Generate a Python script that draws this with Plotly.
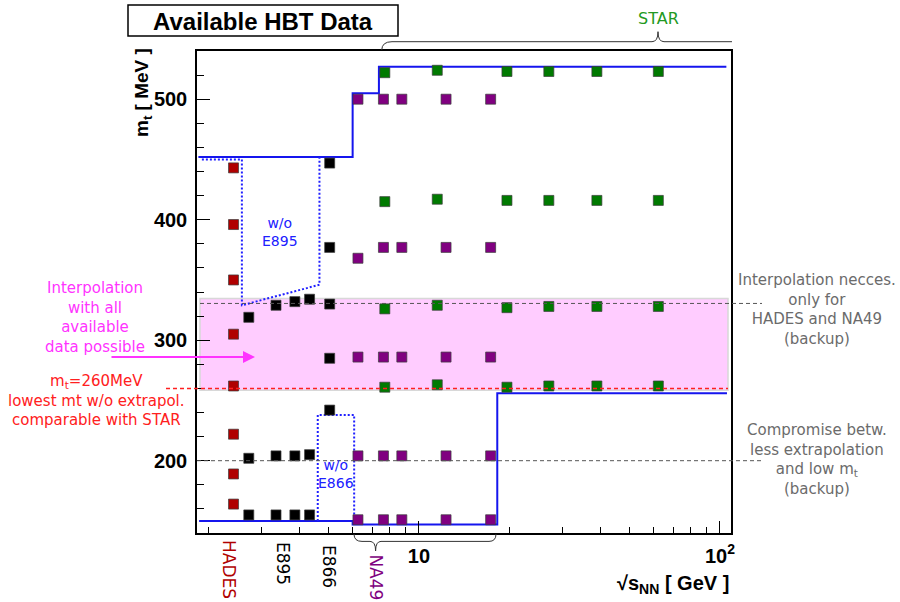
import plotly.graph_objects as go

# ---------------- data ----------------
hades_sqrts = [2.42]
hades_mt = [[443, 396, 350, 305, 262, 222, 189, 164]]

e895_sqrts = [2.72, 3.35, 3.87, 4.33]
e895_mt = [[319, 202, 155], [329, 204, 155], [332, 204, 155], [334, 205, 155]]

e866_sqrts = [5.05]
e866_mt = [[447, 377, 330, 285, 242]]

na49_sqrts = [6.27, 7.62, 8.77, 12.3, 17.3]
na49_mt = [[500, 368, 286, 204, 151],
           [500, 377, 286, 204, 151],
           [500, 377, 286, 204, 151],
           [500, 377, 286, 204, 151],
           [500, 377, 286, 204, 151]]

star_sqrts = [7.7, 11.5, 19.6, 27, 39, 62.4]
star_mt = [[522, 415, 326, 261],
           [524, 417, 329, 263],
           [523, 416, 327, 261],
           [523, 416, 328, 262],
           [523, 416, 328, 262],
           [523, 416, 328, 262]]

# envelope step lines
upper_x = [1.85, 6.02, 6.02, 7.36, 7.36, 105]
upper_y = [452, 452, 505, 505, 527, 527]
lower_x = [1.86, 6.02, 6.02, 18.2, 18.2, 105.5]
lower_y = [150, 150, 147, 147, 256, 256]

# dotted "w/o" outlines
wo895_x = [1.90, 2.58, 2.58, 4.67, 4.67]
wo895_y = [450, 450, 329, 346, 452]
wo866_x = [4.61, 4.61, 6.09, 6.09]
wo866_y = [150, 238, 238, 150]

band_lo, band_hi = 258.4, 334.7
line_interp = 330.5
line_260 = 260
line_200 = 200

x_major = [10, 100]
x_major_text = ["10", "10<sup>2</sup>"]
x_minor = [2, 3, 4, 5, 6, 7, 8, 9, 20, 30, 40, 50, 60, 70, 80, 90]
y_major = [200, 300, 400, 500]

# ---------------- layout helpers (pixel -> paper) ----------------
PL, PR, PT, PB = 197, 731, 51, 533
def px(x):
    return (x - PL) / (PR - PL)
def py(y):
    return (PB - y) / (PB - PT)

fig = go.Figure()

def add_points(xs, ys_list, color):
    X, Y = [], []
    for xv, ys in zip(xs, ys_list):
        for yv in ys:
            X.append(xv)
            Y.append(yv)
    fig.add_trace(go.Scatter(
        x=X, y=Y, mode="markers",
        marker=dict(symbol="square", size=10, color=color,
                    line=dict(width=1, color="rgba(60,60,60,0.7)")),
        showlegend=False, hoverinfo="x+y"))

# step lines & outlines
fig.add_trace(go.Scatter(x=upper_x, y=upper_y, mode="lines",
                         line=dict(color="#1515ee", width=2), showlegend=False))
fig.add_trace(go.Scatter(x=lower_x, y=lower_y, mode="lines",
                         line=dict(color="#1515ee", width=2), showlegend=False))
fig.add_trace(go.Scatter(x=wo895_x, y=wo895_y, mode="lines",
                         line=dict(color="#2020ff", width=2, dash="2px,2px"), showlegend=False))
fig.add_trace(go.Scatter(x=wo866_x, y=wo866_y, mode="lines",
                         line=dict(color="#2020ff", width=2, dash="2px,2px"), showlegend=False))

add_points(hades_sqrts, hades_mt, "#b00000")
add_points(e895_sqrts, e895_mt, "#000000")
add_points(e866_sqrts, e866_mt, "#000000")
add_points(na49_sqrts, na49_mt, "#800080")
add_points(star_sqrts, star_mt, "#007a00")

shapes = []
# pink interpolation band
shapes.append(dict(type="rect", xref="paper", yref="y", x0=px(200), x1=px(728),
                   y0=band_lo, y1=band_hi, fillcolor="#ffccff",
                   line=dict(color="#d8d8d8", width=1.5), layer="below"))
# dashed reference lines
shapes.append(dict(type="line", xref="paper", yref="y", x0=px(200), x1=px(762),
                   y0=line_interp, y1=line_interp,
                   line=dict(color="#555555", width=1, dash="4px,3px")))
shapes.append(dict(type="line", xref="paper", yref="y", x0=px(166), x1=px(728),
                   y0=line_260, y1=line_260,
                   line=dict(color="#ff2020", width=1.5, dash="4px,3px")))
shapes.append(dict(type="line", xref="paper", yref="y", x0=px(197), x1=px(762),
                   y0=line_200, y1=line_200,
                   line=dict(color="#555555", width=1, dash="4px,3px")))
# title box
shapes.append(dict(type="rect", xref="paper", yref="paper", x0=px(128), x1=px(398),
                   y0=py(36), y1=py(5), line=dict(color="black", width=1.5),
                   fillcolor="white"))
# STAR brace (top)
def P(x, y):
    return f"{px(x):.5f},{py(y):.5f}"
star_brace = (f"M {P(381.7, 50)} Q {P(382, 41.7)} {P(392, 41.7)} L {P(652, 41.7)} "
              f"Q {P(658, 41.7)} {P(658, 31.7)} Q {P(658, 41.7)} {P(664, 41.7)} L {P(732, 41.7)}")
shapes.append(dict(type="path", xref="paper", yref="paper", path=star_brace,
                   line=dict(color="#333333", width=1)))
# NA49 brace (bottom)
na_brace = (f"M {P(354, 534)} Q {P(354, 541.4)} {P(362, 541.4)} L {P(370, 541.4)} "
            f"Q {P(375.6, 541.4)} {P(375.6, 551)} Q {P(375.6, 541.4)} {P(381, 541.4)} "
            f"L {P(489, 541.4)} Q {P(496, 541.4)} {P(496, 534)}")
shapes.append(dict(type="path", xref="paper", yref="paper", path=na_brace,
                   line=dict(color="#333333", width=1)))

DV = "DejaVu Sans"
ann = []
def A(text, x, y, color, size, family=DV, angle=0, xanchor="center", bold=False):
    ann.append(dict(text=text, xref="paper", yref="paper", x=px(x), y=py(y),
                    xanchor=xanchor, yanchor="middle", showarrow=False,
                    textangle=angle,
                    font=dict(family=family, size=size, color=color,
                              weight="bold" if bold else "normal")))

A("Available HBT Data", 263, 21, "black", 24, family="Liberation Sans", bold=True)
A("Interpolation<br>with all<br>available<br>data possible", 95, 317, "#ff33ff", 15)
A("m<sub>t</sub>=260MeV<br>lowest mt w/o extrapol.<br>comparable with STAR", 96, 400, "#ff2020", 15)
A("Interpolation necces.<br>only for<br>HADES and NA49<br>(backup)", 817, 309, "#6b6b6b", 15)
A("Compromise betw.<br>less extrapolation<br>and low m<sub>t</sub><br>(backup)", 817, 459, "#6b6b6b", 15)
A("w/o<br>E895", 280, 232, "#2020ff", 14)
A("w/o<br>E866", 336, 474, "#2020ff", 14)
A("STAR", 658, 18, "#229922", 16)
A("HADES", 229, 569, "#b00000", 17, angle=90)
A("E895", 283, 563, "black", 17, angle=90)
A("E866", 329, 566, "black", 17, angle=90)
A("NA49", 375.6, 577, "#800080", 17, angle=90)
A("m<sub>t</sub> [ MeV ]", 143, 93, "black", 19, family="Liberation Sans", angle=-90, bold=True)
A("√<b>s</b><sub>NN</sub> [ GeV ]", 731, 584, "black", 20, family="Liberation Sans",
  xanchor="right", bold=True)

# magenta arrow
ann.append(dict(text="", xref="paper", yref="y", x=px(255), y=286, ax=-145, ay=0,
                showarrow=True, arrowhead=2, arrowsize=1.2, arrowwidth=2,
                arrowcolor="#ff33ff", standoff=0))

fig.update_layout(
    width=900, height=602,
    margin=dict(l=PL, r=900 - PR, t=PT, b=602 - PB),
    paper_bgcolor="white", plot_bgcolor="white",
    shapes=shapes, annotations=ann, showlegend=False,
    xaxis=dict(type="log", range=[0.2625, 2.0366],
               tickmode="array", tickvals=x_major, ticktext=x_major_text,
               ticks="inside", ticklen=12, tickwidth=1, tickcolor="black",
               minor=dict(tickmode="array", tickvals=x_minor, ticks="inside",
                          ticklen=6, tickwidth=1, tickcolor="black", showgrid=False),
               showgrid=False, zeroline=False,
               showline=True, mirror=True, linecolor="black", linewidth=1.5,
               ticklabelstandoff=4,
               tickfont=dict(family="Liberation Sans", size=20, color="black", weight="bold")),
    yaxis=dict(range=[140, 540],
               tickmode="array", tickvals=y_major,
               ticks="inside", ticklen=13, tickwidth=1, tickcolor="black",
               minor=dict(dtick=20, tick0=0, ticks="inside", ticklen=7,
                          tickwidth=1, tickcolor="black", showgrid=False),
               showgrid=False, zeroline=False,
               showline=True, mirror=True, linecolor="black", linewidth=1.5,
               ticklabelstandoff=4,
               tickfont=dict(family="Liberation Sans", size=20, color="black", weight="bold")),
)

fig.write_html("out.html")
